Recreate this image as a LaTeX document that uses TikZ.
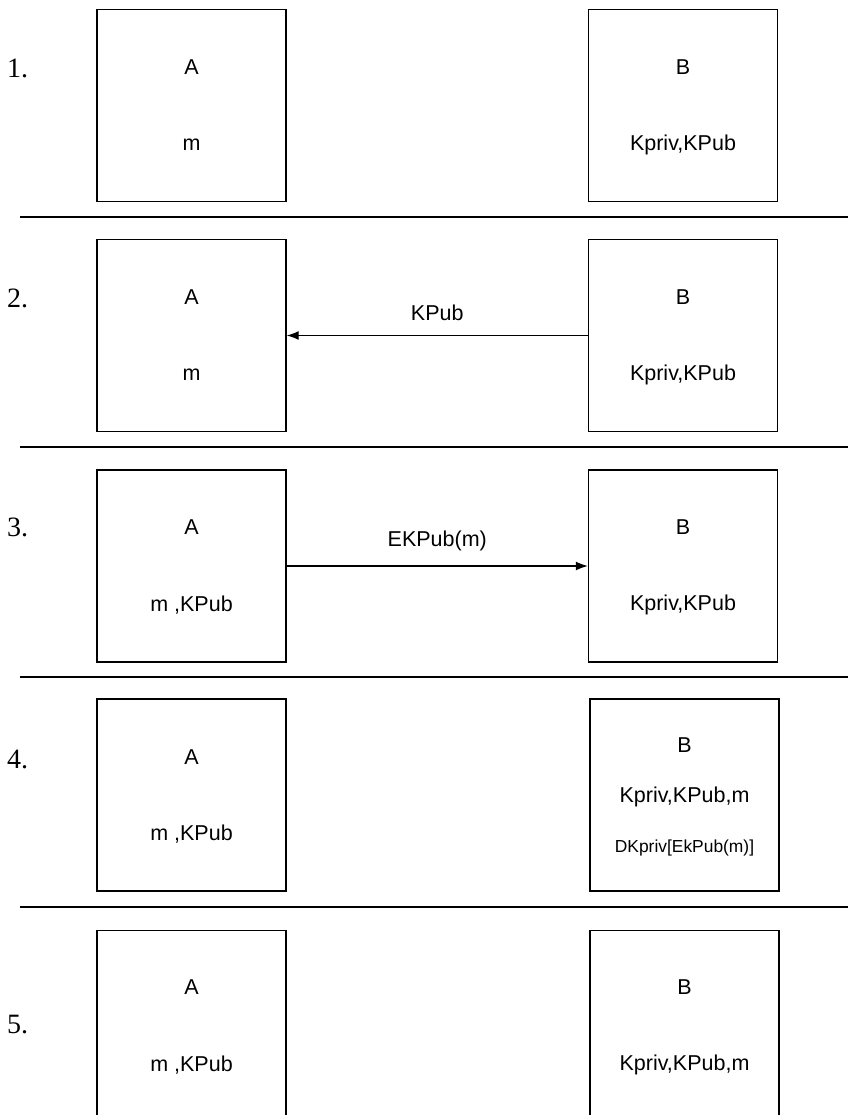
\documentclass[tikz,border=0pt]{standalone}
\usepackage{fontspec}
\setsansfont{Liberation Sans}
\newfontfamily\numfont{Liberation Serif}
\usetikzlibrary{arrows.meta}
\tikzset{
  box/.style={draw, line width=1.4pt, minimum width=189pt, minimum height=192pt, inner sep=0pt},
  txt/.style={inner sep=0pt, anchor=center, font=\sffamily\fontsize{21.5}{25}\selectfont},
  smalltxt/.style={inner sep=0pt, anchor=center, font=\sffamily\fontsize{17.4}{21}\selectfont},
  num/.style={inner sep=0pt, anchor=west, font=\numfont\fontsize{28}{32}\selectfont},
  sepline/.style={line width=1.9pt},
  msg/.style={line width=1.2pt, -{Latex[length=12pt,width=9pt]}},
}
\begin{document}
\begin{tikzpicture}[x=1pt,y=-1pt]
\useasboundingbox (0,0) rectangle (848,1115);
\clip (0,0) rectangle (848,1115);
% row 1
\node[num] (n1) at (7,68) {1.};
\node[box] (a1) at (191.5,105.5) {};
\node[box] (b1) at (683,105.5) {};
\node[txt] (a1t) at (191.5,67) {A};
\node[txt] (a1m) at (191.5,145) {m};
\node[txt] (b1t) at (683,67) {B};
\node[txt] (b1k) at (683,145) {Kpriv,KPub};
\draw[sepline] (20,217) -- (848,217);
% row 2
\node[num] (n2) at (7,298) {2.};
\node[box] (a2) at (191.5,335.5) {};
\node[box] (b2) at (683,335.5) {};
\node[txt] (a2t) at (191.5,297) {A};
\node[txt] (a2m) at (191.5,375) {m};
\node[txt] (b2t) at (683,297) {B};
\node[txt] (b2k) at (683,375) {Kpriv,KPub};
\draw[msg] (b2.west) -- node[txt, above=14pt] (l2) {KPub} (a2.east);
\draw[sepline] (20,447) -- (848,447);
% row 3
\node[num] (n3) at (7,527) {3.};
\node[box] (a3) at (191.5,566) {};
\node[box] (b3) at (683,566) {};
\node[txt] (a3t) at (191.5,527) {A};
\node[txt] (a3m) at (191.5,605) {m ,KPub};
\node[txt] (b3t) at (683,527) {B};
\node[txt] (b3k) at (683,605) {Kpriv,KPub};
\draw[msg] (a3.east) -- node[txt, above=14pt] (l3) {EKPub(m)} (b3.west);
\draw[sepline] (20,677) -- (848,677);
% row 4
\node[num] (n4) at (7,759) {4.};
\node[box] (a4) at (191.5,795) {};
\node[box] (b4) at (684.5,795) {};
\node[txt] (a4t) at (191.5,757) {A};
\node[txt] (a4m) at (191.5,834) {m ,KPub};
\node[txt] (b4t) at (684.5,745) {B};
\node[txt] (b4k) at (684.5,797) {Kpriv,KPub,m};
\node[smalltxt] (b4d) at (684.5,848) {DKpriv[EkPub(m)]};
\draw[sepline] (20,907) -- (848,907);
% row 5
\node[num] (n5) at (7,1025) {5.};
\node[box] (a5) at (191.5,1026.5) {};
\node[box] (b5) at (684.5,1026.5) {};
\node[txt] (a5t) at (191.5,987) {A};
\node[txt] (a5m) at (191.5,1065) {m ,KPub};
\node[txt] (b5t) at (684.5,987) {B};
\node[txt] (b5k) at (684.5,1065) {Kpriv,KPub,m};
\end{tikzpicture}
\end{document}
